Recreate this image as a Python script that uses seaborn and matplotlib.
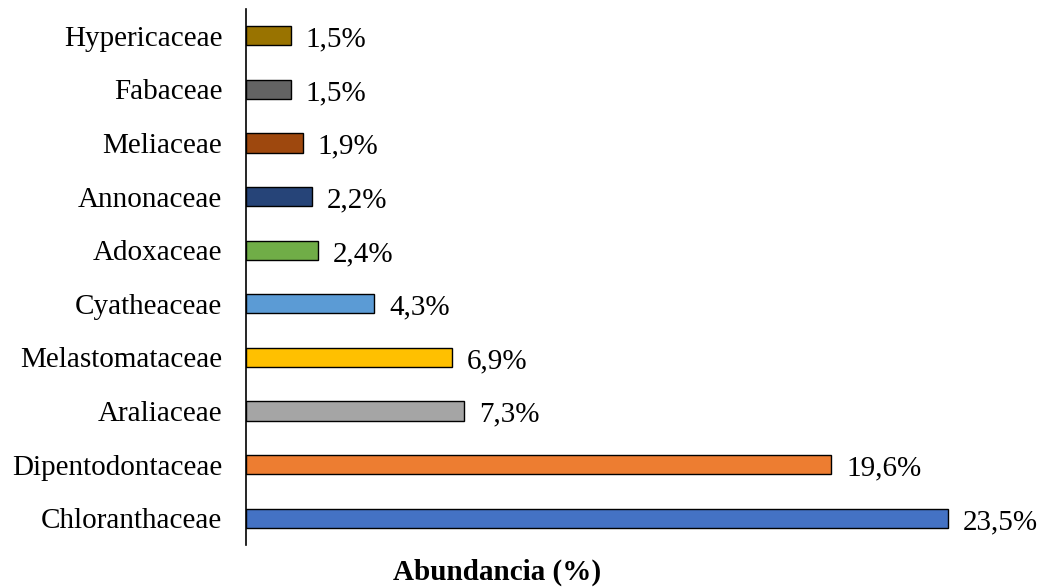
import matplotlib
matplotlib.use("Agg")
import matplotlib.pyplot as plt
import seaborn as sns
import pandas as pd

families = ["Hypericaceae", "Fabaceae", "Meliaceae", "Annonaceae", "Adoxaceae",
            "Cyatheaceae", "Melastomataceae", "Araliaceae", "Dipentodontaceae", "Chloranthaceae"]
values = [1.5, 1.5, 1.9, 2.2, 2.4, 4.3, 6.9, 7.3, 19.6, 23.5]
labels = ["1,5%", "1,5%", "1,9%", "2,2%", "2,4%", "4,3%", "6,9%", "7,3%", "19,6%", "23,5%"]
colors = ["#997300", "#636363", "#9E480E", "#264478", "#70AD47",
          "#5B9BD5", "#FFC000", "#A5A5A5", "#ED7D31", "#4472C4"]

df = pd.DataFrame({"family": families, "value": values})

sns.set_style("white")
plt.rcParams["font.family"] = ["Liberation Serif", "DejaVu Serif"]
plt.rcParams["text.color"] = "black"
plt.rcParams["ytick.color"] = "black"
plt.rcParams["axes.labelcolor"] = "black"

W, H = 1037, 587
fig = plt.figure(figsize=(W / 100, H / 100), dpi=100)
xmax = 26.0
ppu = (948 - 246) / 23.5
left, right = 246, 246 + xmax * ppu
top, bottom = 9, 545
ax = fig.add_axes([left / W, 1 - bottom / H, (right - left) / W, (bottom - top) / H])

sns.barplot(data=df, x="value", y="family", hue="family", palette=colors, order=families,
            hue_order=families, orient="h", width=0.36, edgecolor="black", linewidth=1.0,
            saturation=1, legend=False, ax=ax)

for i, (v, lab) in enumerate(zip(values, labels)):
    ax.text(v + 0.5, i + 0.07, lab, va="center", ha="left", fontsize=21, color="black")

ax.set_xlim(0, xmax)
ax.set_ylim(len(families) - 0.5, -0.5)
for s in ["top", "right", "bottom"]:
    ax.spines[s].set_visible(False)
ax.spines["left"].set_color("black")
ax.spines["left"].set_linewidth(1.2)
ax.set_xticks([])
ax.tick_params(axis="y", length=0, labelsize=21, pad=17, labelcolor="black")
ax.set_ylabel("")
ax.set_xlabel("")
fig.text(497 / W, 1 - 572 / H, "Abundancia (%)", fontsize=21, fontweight="bold",
         ha="center", va="center", color="black")

fig.savefig("out.png", dpi=100)
